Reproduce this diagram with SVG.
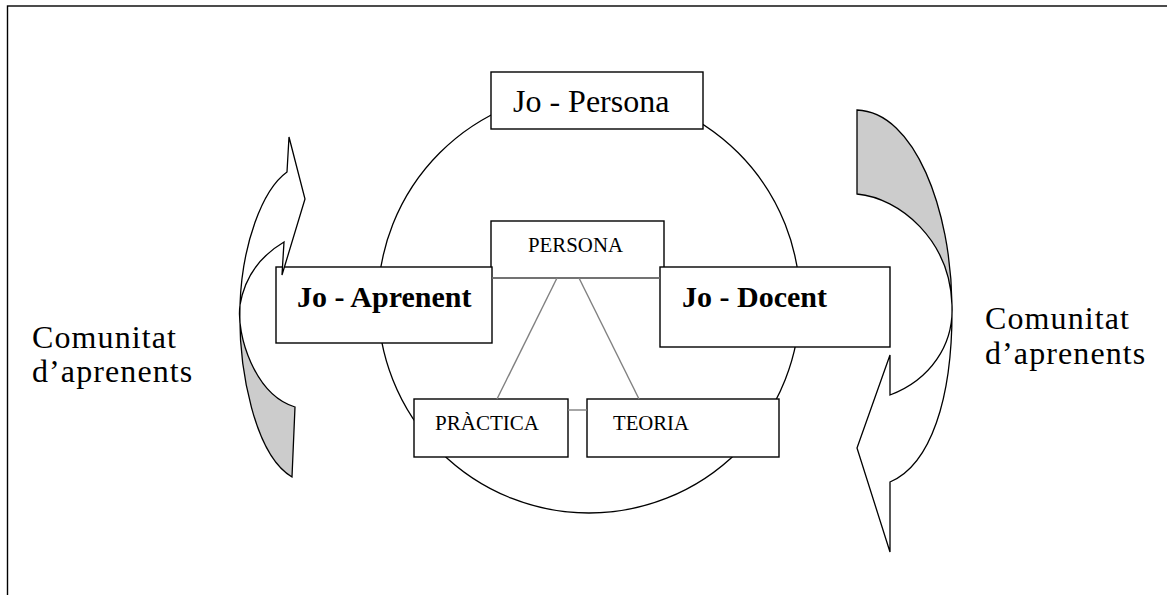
<svg xmlns="http://www.w3.org/2000/svg" width="1167" height="595" viewBox="0 0 1167 595">
<style>
.box{fill:#fff;stroke:#000;stroke-width:1.4}
.conn{stroke:#808080;stroke-width:1.4;fill:none}
.t{font-family:"Liberation Serif","Times New Roman",serif;fill:#000}
.arrow{stroke:#000;stroke-width:1.3;stroke-linejoin:miter}
</style>
<rect x="7.5" y="6" width="1300" height="700" fill="#fff" stroke="#000" stroke-width="1.4"/>
<circle cx="589" cy="302" r="211" fill="none" stroke="#000" stroke-width="1.3"/>

<g id="jo-persona"><rect class="box" x="491" y="72" width="212" height="57"/><text class="t" x="513" y="112" font-size="32">Jo - Persona</text></g>
<g id="persona"><rect class="box" x="491" y="221" width="173" height="57"/><text class="t" x="528" y="252" font-size="22" textLength="95" lengthAdjust="spacingAndGlyphs">PERSONA</text></g>
<g id="jo-aprenent"><rect class="box" x="276" y="267" width="216" height="76"/><text class="t" x="297" y="307" font-size="30" font-weight="bold">Jo - Aprenent</text></g>
<g id="jo-docent"><rect class="box" x="660" y="267" width="230" height="80"/><text class="t" x="682" y="307" font-size="30" font-weight="bold">Jo - Docent</text></g>
<g id="practica"><rect class="box" x="414" y="399" width="154" height="58"/><text class="t" x="435" y="430" font-size="22" textLength="104" lengthAdjust="spacingAndGlyphs">PRÀCTICA</text></g>
<g id="teoria"><rect class="box" x="587" y="399" width="192" height="58"/><text class="t" x="613" y="430" font-size="22" textLength="76" lengthAdjust="spacingAndGlyphs">TEORIA</text></g>

<g id="connectors">
<line class="conn" x1="492" y1="278" x2="660" y2="278"/>
<line class="conn" x1="557" y1="278" x2="497" y2="399"/>
<line class="conn" x1="579" y1="278" x2="639" y2="399"/>
<line class="conn" x1="568" y1="410" x2="587" y2="410"/>
</g>

<g id="left-arrow">
<path class="arrow" fill="#cccccc" d="M240,305 C238,370 255,455 292,477 L295,407 C255,395 236,335 240,305 Z"/>
<path class="arrow" fill="#fff" d="M240,305 C242,245 262,190 287,172 L289,137 L305,199 L282,275 L284,242 C262,255 245,275 240,305 Z"/>
</g>

<g id="right-arrow">
<path class="arrow" fill="#cccccc" d="M857,110 C915,112 951,210 952,305 C950,240 900,198 857,194 Z"/>
<path class="arrow" fill="#fff" d="M952,305 C953,400 930,465 890,482 L890,552 L857,448 L890,355 L890,395 C930,380 954,345 952,305 Z"/>
</g>

<g id="comunitat-left"><text class="t" x="32" y="348" font-size="32" letter-spacing="1.1">Comunitat</text><text class="t" x="32" y="382" font-size="32" letter-spacing="1.1">d’aprenents</text></g>
<g id="comunitat-right"><text class="t" x="985" y="329" font-size="32" letter-spacing="1.1">Comunitat</text><text class="t" x="985" y="364" font-size="32" letter-spacing="1.1">d’aprenents</text></g>
</svg>
